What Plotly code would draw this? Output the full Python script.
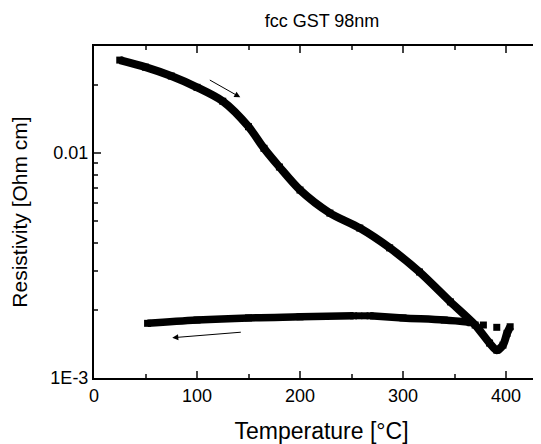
import numpy as np
import plotly.graph_objects as go

# ── Data ──────────────────────────────────────────────────────────────────────

heat_T = [25, 50, 75, 100, 125, 150, 165, 180, 200, 229, 258, 287, 316, 346, 370, 384, 391, 397, 401, 404]
heat_R = [0.0259, 0.0241, 0.0220, 0.0196, 0.0170, 0.0131, 0.0105, 0.00867, 0.00685, 0.00541,
          0.00464, 0.00379, 0.00296, 0.00218, 0.00172, 0.00143, 0.00133, 0.00140, 0.00158, 0.00169]

cool_hi_T = [365, 340, 300, 268]
cool_hi_R = [0.00177, 0.00181, 0.00185, 0.00189]
cool_gap_T = [263, 257]
cool_gap_R = [0.00189, 0.00189]
cool_lo_T = [252, 200, 150, 100, 52]
cool_lo_R = [0.00189, 0.00187, 0.00185, 0.00181, 0.00175]
cool_fast_T = [391, 378, 366]
cool_fast_R = [0.00168, 0.00172, 0.00176]

x_ticks = [0, 100, 200, 300, 400]
x_minor = [50, 150, 250, 350]
y_ticks = [0.001, 0.01]
y_ticktext = ["1E-3", "0.01"]
y_minor = [0.002, 0.003, 0.004, 0.005, 0.006, 0.007, 0.008, 0.009, 0.02]

_FONT = "Arial, Liberation Sans, sans-serif"
_BLACK = "#000000"

# page body has an 8px margin, so the figure is laid out 8px up/left of the target
fig = go.Figure()

# heating branch
fig.add_trace(go.Scatter(
    x=heat_T, y=heat_R, mode="lines+markers",
    line=dict(color=_BLACK, width=8, shape="spline", smoothing=0.8),
    marker=dict(symbol="square", size=7, color=_BLACK),
))

# cooling branch
for xs, ys in [(cool_hi_T, cool_hi_R), (cool_lo_T, cool_lo_R)]:
    fig.add_trace(go.Scatter(
        x=xs, y=ys, mode="lines+markers",
        line=dict(color=_BLACK, width=7.5, shape="spline"),
        marker=dict(symbol="square", size=7, color=_BLACK),
    ))
for xs, ys in [(cool_gap_T, cool_gap_R), (cool_fast_T, cool_fast_R)]:
    fig.add_trace(go.Scatter(
        x=xs, y=ys, mode="markers",
        marker=dict(symbol="square", size=7, color=_BLACK),
    ))

# direction arrows
arrows = [((111, 0.0213), (142, 0.0177)), ((144, 0.00160), (76, 0.00151))]
for (tx, ty), (hx, hy) in arrows:
    fig.add_annotation(
        x=hx, y=np.log10(hy), ax=tx, ay=np.log10(ty),
        xref="x", yref="y", axref="x", ayref="y",
        text="", showarrow=True, arrowhead=2, arrowsize=1.2, arrowwidth=1, arrowcolor=_BLACK,
    )

fig.update_layout(
    width=541, height=444,
    template="simple_white",
    showlegend=False,
    font=dict(family=_FONT, color=_BLACK),
    margin=dict(l=86, r=0, t=38, b=74),
    title=dict(text="fcc GST 98nm", x=314 / 541, xref="container", xanchor="center",
               y=1 - 13 / 444, yanchor="middle", font=dict(size=18)),
    plot_bgcolor="white", paper_bgcolor="white",
)
fig.update_xaxes(
    range=[0, 441.7], tickvals=x_ticks, ticks="inside", ticklen=7, tickwidth=2,
    minor=dict(tickvals=x_minor, ticks="inside", ticklen=4, tickwidth=2),
    showline=True, linewidth=2, linecolor=_BLACK, mirror="ticks",
    tickfont=dict(size=18), showgrid=False, zeroline=False,
    title=dict(text="Temperature [°C]", font=dict(size=23), standoff=18),
)
fig.update_yaxes(
    type="log", range=[-3, -1.524], tickvals=y_ticks, ticktext=y_ticktext,
    ticks="inside", ticklen=7, tickwidth=2,
    minor=dict(tickvals=y_minor, ticks="inside", ticklen=4, tickwidth=2),
    showline=True, linewidth=2, linecolor=_BLACK, mirror=False,
    tickfont=dict(size=18), showgrid=False, zeroline=False,
    title=dict(text="Resistivity [Ohm cm]", font=dict(size=21), standoff=19),
)

fig.write_html("out.html")
